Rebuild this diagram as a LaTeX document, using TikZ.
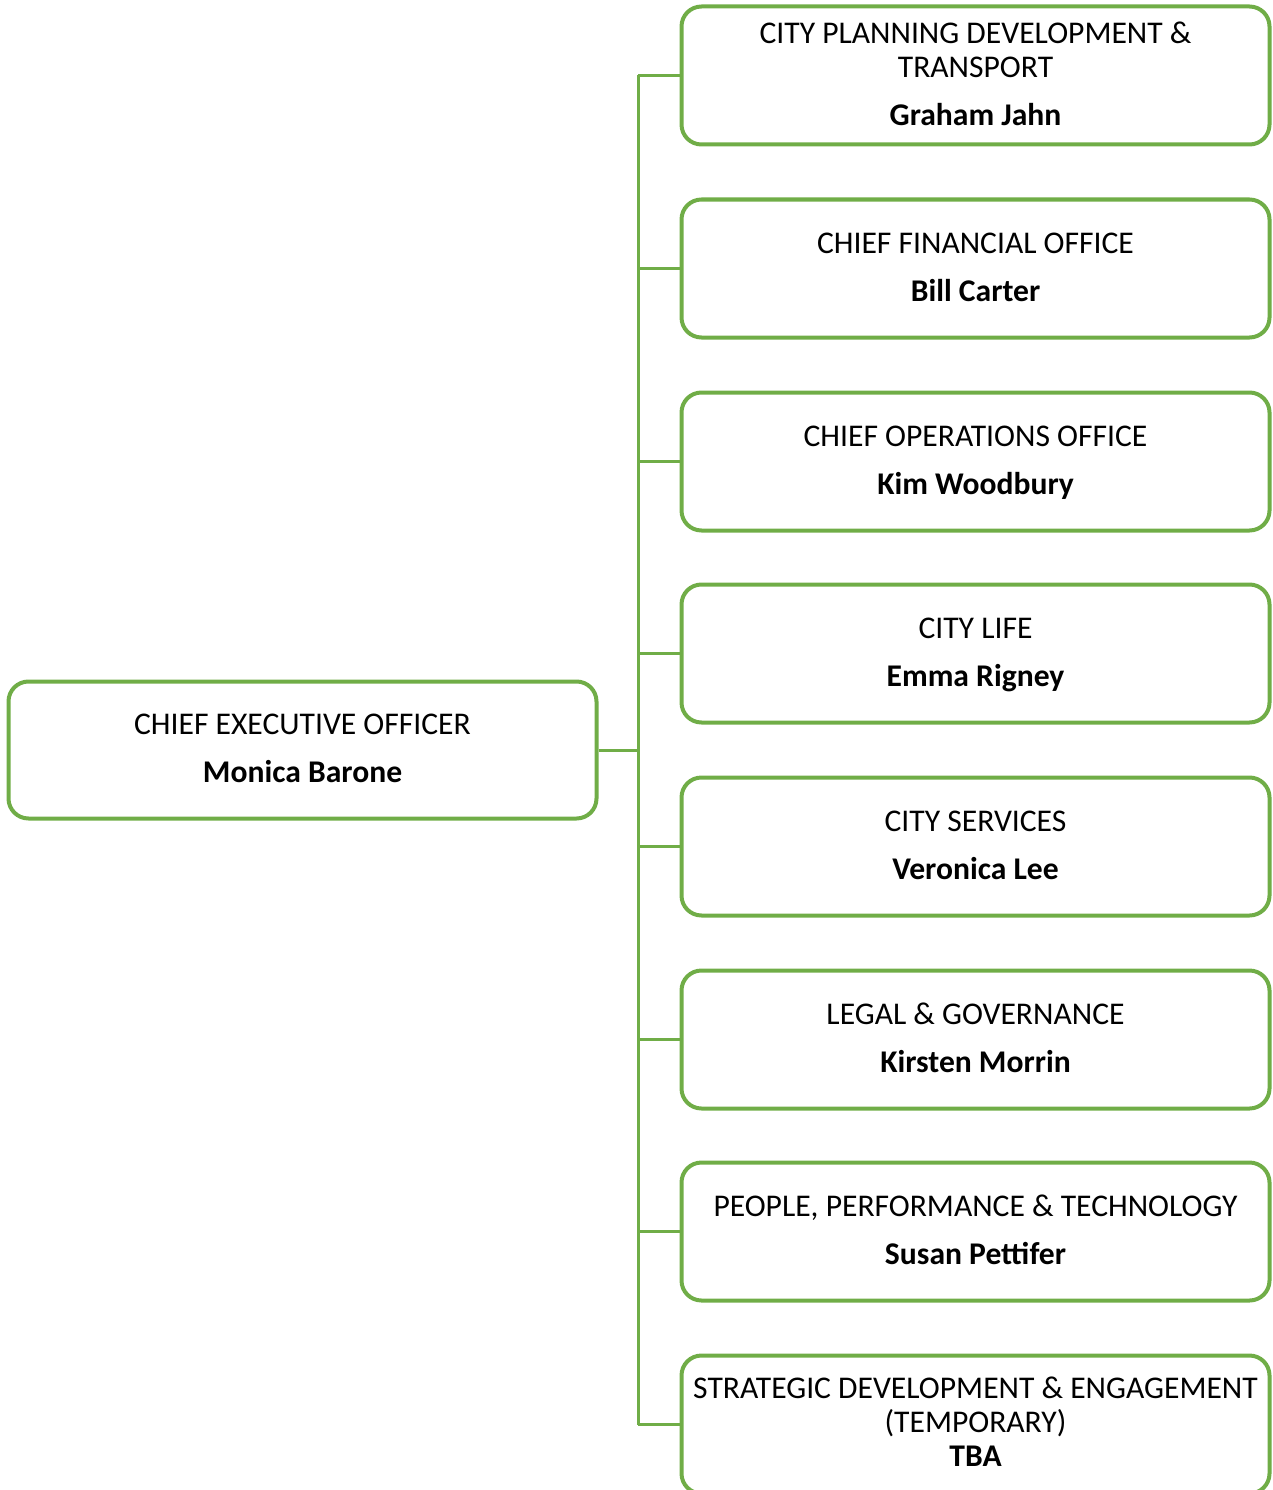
\documentclass[tikz,border=0pt]{standalone}
\usepackage{fontspec}
\setmainfont{Carlito}
\definecolor{orggreen}{HTML}{70AD47}
\tikzset{
  unitbox/.style={draw=orggreen, line width=4pt, rounded corners=20pt,
    minimum width=588pt, minimum height=138pt},
  headbox/.style={unitbox, minimum width=588pt, minimum height=137pt},
  ttl/.style={anchor=base, inner sep=0pt, font=\fontsize{31.6}{34}\selectfont},
  who/.style={ttl, font=\fontsize{31.6}{34}\selectfont\bfseries},
  link/.style={draw=orggreen, line width=3pt}
}
\begin{document}
\begin{tikzpicture}[x=1pt,y=-1pt]
\useasboundingbox (0,0) rectangle (1272,1490);
% chief executive
\node[headbox] (ceo) at (302.5,750) {};
\node[ttl] (ceo-t) at (302.5,734) {CHIEF EXECUTIVE OFFICER};
\node[who] (ceo-n) at (302.5,782) {Monica Barone};
% directorates
\node[unitbox] (cpdt) at (975.5,75.5) {};
\node[ttl] (cpdt-t1) at (975.5,44) {CITY PLANNING DEVELOPMENT \&};
\node[ttl] (cpdt-t2) at (975.5,78) {TRANSPORT};
\node[who] (cpdt-n) at (975.5,126) {Graham Jahn};
\node[unitbox] (cfo) at (975.5,268.5) {};
\node[ttl] (cfo-t) at (975.5,253) {CHIEF FINANCIAL OFFICE};
\node[who] (cfo-n) at (975.5,301) {Bill Carter};
\node[unitbox] (coo) at (975.5,461.5) {};
\node[ttl] (coo-t) at (975.5,446) {CHIEF OPERATIONS OFFICE};
\node[who] (coo-n) at (975.5,494) {Kim Woodbury};
\node[unitbox] (life) at (975.5,653.5) {};
\node[ttl] (life-t) at (975.5,638) {CITY LIFE};
\node[who] (life-n) at (975.5,686) {Emma Rigney};
\node[unitbox] (serv) at (975.5,846.5) {};
\node[ttl] (serv-t) at (975.5,831) {CITY SERVICES};
\node[who] (serv-n) at (975.5,879) {Veronica Lee};
\node[unitbox] (legal) at (975.5,1039.5) {};
\node[ttl] (legal-t) at (975.5,1024) {LEGAL \& GOVERNANCE};
\node[who] (legal-n) at (975.5,1072) {Kirsten Morrin};
\node[unitbox] (ppt) at (975.5,1231.5) {};
\node[ttl] (ppt-t) at (975.5,1216) {PEOPLE, PERFORMANCE \& TECHNOLOGY};
\node[who] (ppt-n) at (975.5,1264) {Susan Pettifer};
\node[unitbox] (sde) at (975.5,1424.5) {};
\node[ttl] (sde-t1) at (975.5,1398) {STRATEGIC DEVELOPMENT \& ENGAGEMENT};
\node[ttl] (sde-t2) at (975.5,1432) {(TEMPORARY)};
\node[who] (sde-n) at (975.5,1466) {TBA};
% reporting lines
\coordinate (bus) at (638,750);
\draw[link] (ceo.east) -- (bus);
\draw[link] (bus|-cpdt.west) -- (bus|-sde.west);
\draw[link] (bus|-cpdt.west) -- (cpdt.west);
\draw[link] (bus|-cfo.west) -- (cfo.west);
\draw[link] (bus|-coo.west) -- (coo.west);
\draw[link] (bus|-life.west) -- (life.west);
\draw[link] (bus|-serv.west) -- (serv.west);
\draw[link] (bus|-legal.west) -- (legal.west);
\draw[link] (bus|-ppt.west) -- (ppt.west);
\draw[link] (bus|-sde.west) -- (sde.west);
\end{tikzpicture}
\end{document}
